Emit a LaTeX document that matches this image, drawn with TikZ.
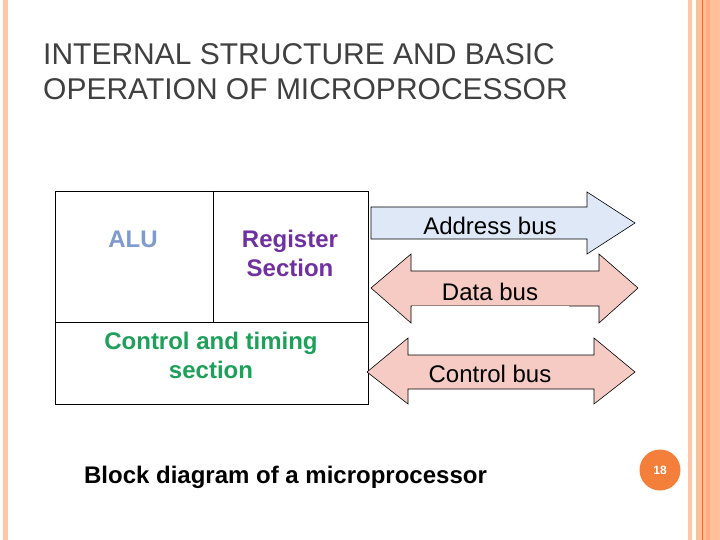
\documentclass[tikz,border=0pt]{standalone}
\usepackage{fontspec}
\setmainfont{Liberation Sans}
\begin{document}
\begin{tikzpicture}[x=1pt,y=-1pt,
  lbl/.style={font=\fontsize{24}{29}\selectfont\bfseries,align=center,inner sep=0},
  bus/.style={draw=black,line width=0.6pt,line join=miter},
  bustxt/.style={font=\fontsize{24}{28}\selectfont,inner sep=0}]
\useasboundingbox (0,0) rectangle (720,540);
\fill[white] (0,0) rectangle (720,540);
% borders
\fill[red!25!orange!35!white] (3,0) rectangle (8,540);
\fill[red!25!orange!35!white] (688,0) rectangle (692,540);
\fill[red!25!orange!40!white] (696,0) rectangle (720,540);
\fill[red!30!orange!50!white] (706,0) rectangle (710,540);
\draw[orange!80!red,line width=0.8pt] (702,0) -- (702,540);
% title
\node[anchor=base west,inner sep=0,font=\fontsize{30}{36}\selectfont,text=black!75] (t1) at (43,65) {INTERNAL STRUCTURE AND BASIC};
\node[anchor=base west,inner sep=0,font=\fontsize{30}{36}\selectfont,text=black!75] (t2) at (43,100) {OPERATION OF MICROPROCESSOR};
% block
\draw[line width=0.8pt] (55,191) rectangle (368,404);
\draw[line width=0.8pt] (213,191) -- (213,322);
\draw[line width=0.8pt] (55,322) -- (368,322);
\node[lbl,text={rgb,255:red,127;green,154;blue,205}] (alu) at (133,239) {ALU};
\node[lbl,text={rgb,255:red,112;green,48;blue,160}] (reg) at (290,253) {Register\\Section};
\node[lbl,text={rgb,255:red,30;green,160;blue,90}] (ctl) at (211,355) {Control and timing\\section};
% address bus
\fill[bus,fill={rgb,255:red,222;green,232;blue,246}] (371,207) -- (587,207) -- (587,192) -- (635,223) -- (587,254) -- (587,239) -- (371,239) -- cycle;
\node[bustxt] (ab) at (490,226) {Address bus};
% data bus
\fill[bus,fill={rgb,255:red,245;green,203;blue,196}] (371,288) -- (411,254) -- (411,271) -- (599,271) -- (599,254) -- (638,288) -- (599,323) -- (599,306) -- (411,306) -- (411,323) -- cycle;
\fill[white] (411.5,306.4) rectangle (569,317);
\node[bustxt] (db) at (490,292) {Data bus};
% control bus
\fill[bus,fill={rgb,255:red,245;green,203;blue,196}] (367,372) -- (408,338) -- (408,355) -- (594,355) -- (594,338) -- (635,372) -- (594,404) -- (594,389) -- (408,389) -- (408,404) -- cycle;
\node[bustxt] (cb) at (490,374) {Control bus};
% caption
\node[anchor=base,inner sep=0,font=\fontsize{24}{28}\selectfont\bfseries] (cap) at (285.5,483) {Block diagram of a microprocessor};
% page number
\node[circle,fill={rgb,255:red,244;green,127;blue,58},minimum size=41pt,inner sep=0,text=white,font=\fontsize{12}{14}\selectfont\bfseries] (pn) at (660,470) {18};
\end{tikzpicture}
\end{document}
